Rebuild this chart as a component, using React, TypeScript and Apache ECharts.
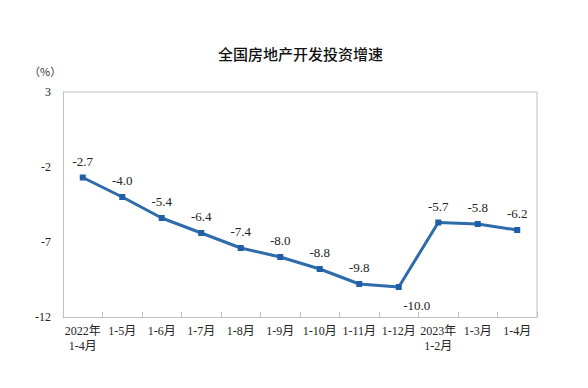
import React, { useEffect, useRef } from "react";
import * as echarts from "echarts";

const categories = [
  "2022年\n1-4月",
  "1-5月",
  "1-6月",
  "1-7月",
  "1-8月",
  "1-9月",
  "1-10月",
  "1-11月",
  "1-12月",
  "2023年\n1-2月",
  "1-3月",
  "1-4月",
];
const values = [-2.7, -4.0, -5.4, -6.4, -7.4, -8.0, -8.8, -9.8, -10.0, -5.7, -5.8, -6.2];
const titleText = "全国房地产开发投资增速";
const unitText = "（%）";

const FONT = "Liberation Serif, Noto Sans CJK SC, serif";

export default function App() {
  const ref = useRef<HTMLDivElement>(null);
  useEffect(() => {
    if (!ref.current) return;
    const chart = echarts.init(ref.current, undefined, { renderer: "svg" });
    chart.setOption({
      animation: false,
      backgroundColor: "#ffffff",
      graphic: [
        {
          type: "text",
          left: 305 - 87,
          top: 46,
          style: {
            text: titleText,
            font: "500 15px Noto Sans CJK SC, sans-serif",
            fill: "#111",
          },
        },
        {
          type: "text",
          left: 29,
          top: 65,
          style: {
            text: unitText,
            font: "11px Noto Sans CJK SC, serif",
            fill: "#333",
          },
        },
        {
          type: "line",
          shape: { x1: 63, y1: 92, x2: 537, y2: 92 },
          style: { stroke: "#bfbfbf", lineWidth: 1 },
        },
        {
          type: "line",
          shape: { x1: 537, y1: 92, x2: 537, y2: 317 },
          style: { stroke: "#bfbfbf", lineWidth: 1 },
        },
      ],
      grid: { left: 63, right: 51, top: 92, bottom: 71, containLabel: false },
      xAxis: {
        type: "category",
        data: categories,
        boundaryGap: true,
        axisLine: { onZero: false, lineStyle: { color: "#bfbfbf", width: 1 } },
        axisTick: { show: true, inside: true, length: 5, lineStyle: { color: "#bfbfbf" } },
        axisLabel: {
          interval: 0,
          color: "#222",
          fontFamily: FONT,
          fontSize: 12,
          lineHeight: 15,
          margin: 6,
        },
      },
      yAxis: {
        type: "value",
        min: -12,
        max: 3,
        interval: 5,
        splitLine: { show: false },
        axisLine: { show: true, lineStyle: { color: "#bfbfbf", width: 1 } },
        axisTick: { show: false },
        axisLabel: { color: "#222", fontFamily: FONT, fontSize: 12, margin: 12 },
      },
      series: [
        {
          type: "line",
          data: values.map((v, i) =>
            i === 8
              ? { value: v, label: { position: "bottom", offset: [18, 2] } }
              : v
          ),
          symbol: "rect",
          symbolSize: 6,
          lineStyle: { color: "#2e6bab", width: 3 },
          itemStyle: { color: "#1f5fa5" },
          label: {
            show: true,
            position: "top",
            distance: 7,
            color: "#222",
            fontFamily: FONT,
            fontSize: 13,
            formatter: (p: any) => Number(p.value).toFixed(1),
          },
        },
      ],
    });
    return () => chart.dispose();
  }, []);
  return (
    <div
      ref={ref}
      style={{ position: "fixed", left: 0, top: 0, width: 588, height: 388 }}
    />
  );
}
